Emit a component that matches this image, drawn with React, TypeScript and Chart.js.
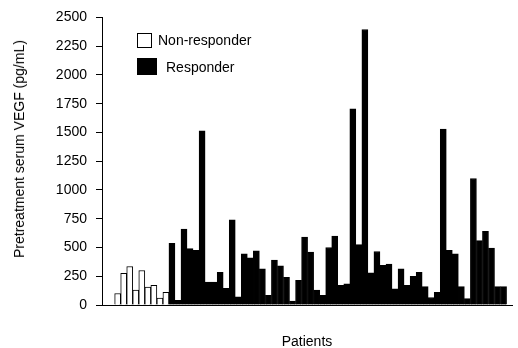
import React, { useEffect, useRef } from "react";
import { Chart, registerables } from "chart.js";

Chart.register(...registerables);

// Pretreatment serum VEGF (pg/mL) per patient
const nonResponder: number[] = [100, 275, 335, 130, 300, 155, 170, 60, 110];
const responder: number[] = [
  535, 40, 660, 490, 475, 1515, 200, 200, 285, 145,
  740, 70, 445, 410, 470, 315, 85, 390, 340, 240,
  35, 215, 590, 460, 130, 85, 500, 600, 170, 185,
  1705, 525, 2395, 280, 465, 345, 355, 140, 315, 170,
  250, 285, 160, 65, 110, 1530, 475, 445, 160, 55,
  1100, 560, 640, 495, 160, 160,
];
const legendLabels: string[] = ["Non-responder", "Responder"];
const yTitle = "Pretreatment serum VEGF (pg/mL)";
const xTitle = "Patients";
const yMin = 0;
const yMax = 2500;
const yStep = 250;

const FONT = "'Liberation Sans', Arial, Helvetica, sans-serif";

export default function App() {
  const ref = useRef<HTMLCanvasElement>(null);

  useEffect(() => {
    if (!ref.current) return;
    const nr = nonResponder.map((v, i) => ({ x: i, y: v }));
    const r = responder.map((v, i) => ({ x: i + nonResponder.length, y: v }));
    const chart = new Chart(ref.current, {
      type: "bar",
      data: {
        datasets: [
          {
            label: legendLabels[0],
            data: nr,
            backgroundColor: "#ffffff",
            borderColor: "#000000",
            borderWidth: 1,
            barPercentage: 1,
            categoryPercentage: 1,
            grouped: false,
          } as any,
          {
            label: legendLabels[1],
            data: r,
            backgroundColor: "#000000",
            borderColor: "#000000",
            borderWidth: 1,
            barPercentage: 1,
            categoryPercentage: 1,
            grouped: false,
          } as any,
        ],
      },
      options: {
        responsive: false,
        animation: false,
        devicePixelRatio: 1,
        layout: { padding: { top: 15, right: 6, bottom: 0, left: 0 } },
        plugins: { legend: { display: false }, tooltip: { enabled: false } },
        scales: {
          x: {
            type: "linear",
            min: -2.6,
            max: 65.4,
            offset: false,
            grid: { display: false, drawTicks: false },
            border: { display: true, color: "#000", width: 1 },
            ticks: { display: false },
            title: {
              display: true,
              text: xTitle,
              color: "#000",
              font: { family: FONT, size: 14, lineHeight: 1 },
              padding: { top: 0, bottom: -1 },
            },
            afterFit: (s: any) => {
              s.height = 43;
            },
          },
          y: {
            min: yMin,
            max: yMax,
            ticks: {
              stepSize: yStep,
              color: "#000",
              font: { family: FONT, size: 14 },
              padding: 9,
              callback: (v: any) => String(v),
            },
            grid: { drawOnChartArea: false, tickLength: 6, color: "#000" },
            border: { display: true, color: "#000", width: 1 },
            title: { display: false },
            afterFit: (s: any) => {
              s.width = 102;
            },
          },
        },
      } as any,
    });
    return () => chart.destroy();
  }, []);

  const textStyle: React.CSSProperties = {
    position: "absolute",
    fontFamily: FONT,
    fontSize: 14,
    lineHeight: "14px",
    color: "#000",
    whiteSpace: "nowrap",
  };

  return (
    <div style={{ position: "absolute", left: 0, top: 0, width: 518, height: 348, background: "#fff" }}>
      <canvas ref={ref} width={518} height={348} style={{ display: "block", width: 518, height: 348 }} />
      <div
        style={{
          ...textStyle,
          left: 19,
          top: 149,
          transform: "translate(-50%, -50%) rotate(-90deg)",
        }}
      >
        {yTitle}
      </div>
      <div
        style={{
          position: "absolute",
          left: 137,
          top: 33,
          width: 13,
          height: 13,
          border: "1px solid #000",
          background: "#fff",
        }}
      />
      <div style={{ ...textStyle, left: 158, top: 33 }}>{legendLabels[0]}</div>
      <div
        style={{
          position: "absolute",
          left: 137,
          top: 58,
          width: 20,
          height: 17,
          background: "#000",
        }}
      />
      <div style={{ ...textStyle, left: 166, top: 60 }}>{legendLabels[1]}</div>
    </div>
  );
}
